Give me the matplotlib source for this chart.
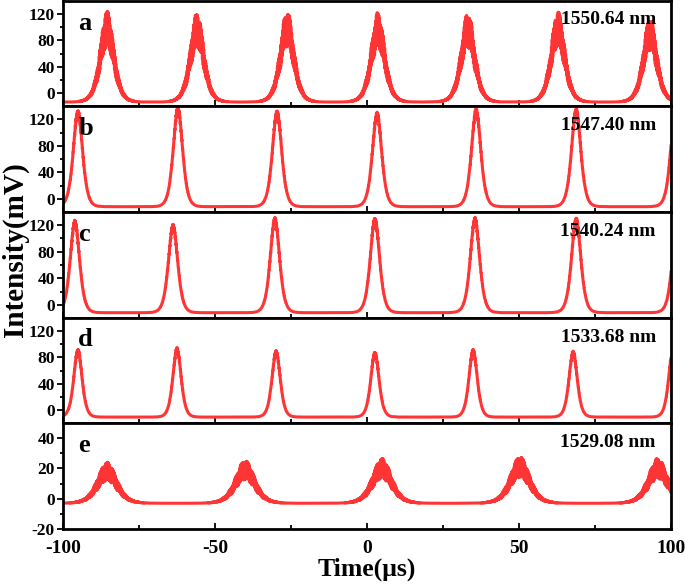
import numpy as np
import matplotlib
matplotlib.use("Agg")
import matplotlib.pyplot as plt

# panel letters and wavelengths
letters = ["a", "b", "c", "d", "e"]
wavelengths = ["1550.64 nm", "1547.40 nm", "1540.24 nm", "1533.68 nm", "1529.08 nm"]

# pulse centres (us)
centers_a = [-85.5, -55.9, -26.3, 3.6, 33.2, 62.8, 93.1]
centers_b = [-95.1, -62.2, -29.6, 3.3, 35.9, 68.8, 101.4]
centers_c = [-96.1, -63.8, -30.3, 2.6, 35.5, 68.8, 102.0]
centers_d = [-95.1, -62.5, -29.9, 2.6, 34.9, 67.8, 100.6]
centers_e = [-85.5, -40.1, 4.9, 50.3, 95.7]

# peak intensities (mV)
peaks_a = [98, 96, 98, 96, 96, 98, 90]
peaks_b = [130, 135, 130, 127, 132, 133, 130]
peaks_c = [124, 118, 128, 128, 128, 128, 128]
peaks_d = [90, 92, 88, 86, 90, 87, 90]
peaks_e = [18, 19, 20, 21, 20]

# baseline level and pulse FWHM (us) per panel
baselines = [-14, -12, -12, -11, -3]
fwhms = [5.3, 3.6, 3.6, 3.2, 7.5]
ripple = [0.25, 0.03, 0.03, 0.03, 0.3]

ylims = [(-20, 140)] * 4 + [(-20, 50)]

centers = [centers_a, centers_b, centers_c, centers_d, centers_e]
peaks = [peaks_a, peaks_b, peaks_c, peaks_d, peaks_e]

t = np.linspace(-100, 100, 8000)

plt.rcParams["font.family"] = "Liberation Serif"
plt.rcParams["font.weight"] = "bold"
plt.rcParams["axes.unicode_minus"] = False

fig = plt.figure(figsize=(6.85, 5.85), dpi=100)
W, H = 685.0, 585.0
left, right = 63 / W, 671 / W
edges = [1, 106, 212, 318, 423, 529]

axes = []
for i in range(5):
    y0 = 1 - edges[i + 1] / H
    h = (edges[i + 1] - edges[i]) / H
    ax = fig.add_axes([left, y0, right - left, h])
    axes.append(ax)

    base = baselines[i]
    tau = fwhms[i] / 1.763
    y = np.full_like(t, float(base))
    for c, p in zip(centers[i], peaks[i]):
        shape = 1 / np.cosh((t - c) / tau) ** 2
        # fine structure on the pulse top
        fine = 1 + ripple[i] * (np.sin(t * 37.0 + c) * np.cos(t * 11.3))
        y += (p - base) * shape * fine
    ax.plot(t, y, color="#ff3535", lw=2.2)

    ax.set_xlim(-100, 100)
    ax.set_ylim(*ylims[i])
    if i < 4:
        ax.set_yticks([0, 40, 80, 120])
        ax.set_yticks([20, 60, 100], minor=True)
    else:
        ax.set_yticks([-20, 0, 20, 40])
        ax.set_yticks([-10, 10, 30], minor=True)
    ax.set_xticks([-100, -50, 0, 50, 100])
    ax.set_xticks([-75, -25, 25, 75], minor=True)
    ax.tick_params(axis="x", which="both", direction="in", width=1.3)
    ax.tick_params(axis="x", which="major", length=4)
    ax.tick_params(axis="x", which="minor", length=3)
    ax.tick_params(axis="y", which="both", direction="out", width=1.3)
    ax.tick_params(axis="y", which="major", length=4, labelsize=12.5, pad=2)
    ax.tick_params(axis="y", which="minor", length=2.5)
    for s in ax.spines.values():
        s.set_linewidth(2)
    if i < 4:
        ax.tick_params(axis="x", labelbottom=False)
    else:
        ax.tick_params(axis="x", labelsize=14, pad=8)

    ax.text(0.025, 0.9, letters[i], transform=ax.transAxes, fontsize=19,
            fontweight="bold", va="top", ha="left")
    ax.text(0.975, 0.9, wavelengths[i], transform=ax.transAxes, fontsize=14,
            fontweight="bold", va="top", ha="right")

fig.text(0.022, 1 - 250 / H, "Intensity(mV)", rotation=90, fontsize=21,
         fontweight="bold", va="center", ha="center")
axes[-1].set_xlabel("Time(\u03bcs)", fontsize=18.5, fontweight="bold", labelpad=0)

fig.savefig("out.png", dpi=100)
